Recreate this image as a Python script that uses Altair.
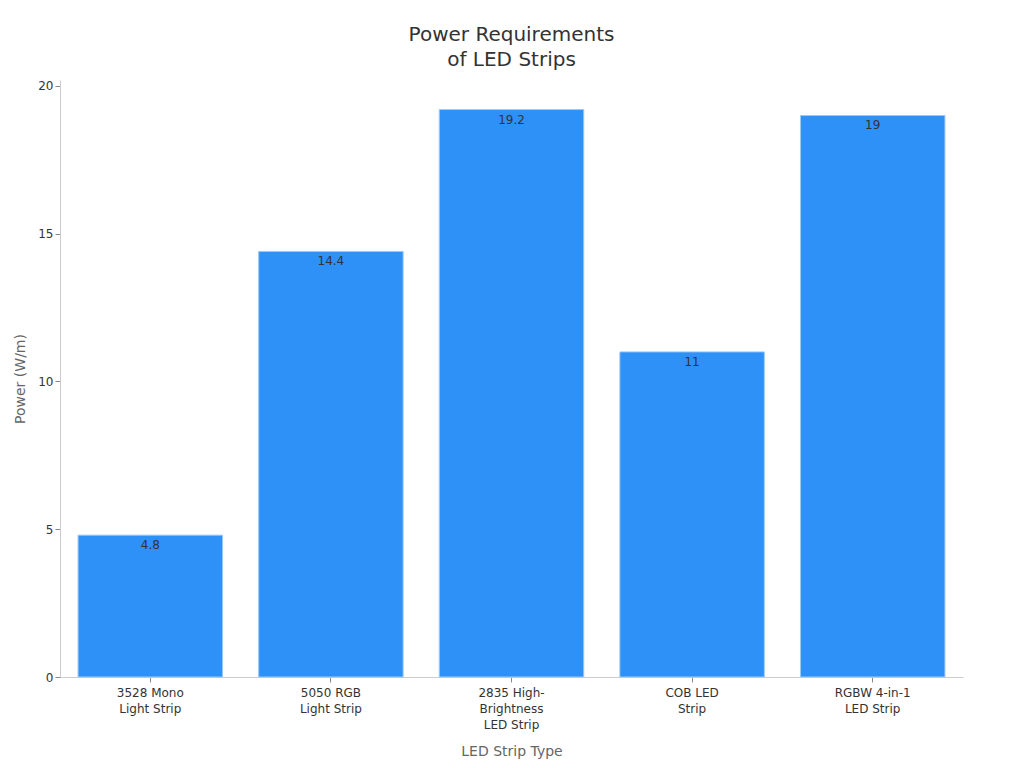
import altair as alt
import pandas as pd

categories = ["3528 Mono|Light Strip", "5050 RGB|Light Strip", "2835 High-|Brightness|LED Strip",
              "COB LED|Strip", "RGBW 4-in-1|LED Strip"]
power = [4.8, 14.4, 19.2, 11, 19]

df = pd.DataFrame({"type": categories, "power": power})

base = alt.Chart(df).encode(
    x=alt.X("type:N", sort=categories, title="LED Strip Type",
            scale=alt.Scale(paddingInner=0.2, paddingOuter=0.1),
            axis=alt.Axis(labelAngle=0, labelExpr="split(datum.label, '|')",
                          labelFontSize=12, labelColor="#333", titleFontSize=14,
                          titleColor="#666", titleFontWeight="normal", titlePadding=14,
                          domainColor="#ccc", tickColor="#888", labelPadding=5,
                          labelLineHeight=16)),
    y=alt.Y("power:Q", title="Power (W/m)",
            scale=alt.Scale(domain=[0, 20.2], nice=False),
            axis=alt.Axis(values=[0, 5, 10, 15, 20], grid=False, labelFontSize=12,
                          labelColor="#333", titleFontSize=14, titleColor="#666",
                          titleFontWeight="normal", domainColor="#ccc", tickColor="#888",
                          titlePadding=10)),
)

bars = base.mark_bar(color="#2E91F8", stroke="#9cc8f5", strokeWidth=1)
labels = base.mark_text(baseline="top", dy=5, fontSize=12, color="#333").encode(
    text=alt.Text("power:Q"))

chart = (bars + labels).properties(
    width=903, height=597,
    padding={"top": 16, "left": 5, "right": 5, "bottom": 5},
    title=alt.TitleParams(["Power Requirements", "of LED Strips"], fontSize=20,
                          fontWeight="normal", color="#333", offset=10, lineHeight=25),
).configure(font="DejaVu Sans").configure_view(stroke=None)

chart.save("out.html", embed_options={"renderer": "svg", "actions": False})
